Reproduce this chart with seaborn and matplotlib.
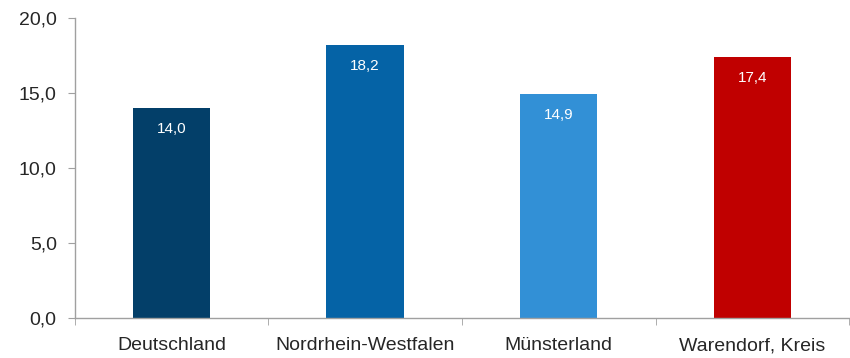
import numpy as np
import pandas as pd
import matplotlib
matplotlib.use('Agg')
import matplotlib.pyplot as plt
import seaborn as sns

regions = ['Deutschland', 'Nordrhein-Westfalen', 'Münsterland', 'Warendorf, Kreis']
values = [14.0, 18.2, 14.9, 17.4]
colors = ['#033F69', '#0563A6', '#3290D6', '#C00000']

sns.set_style('white')
plt.rcParams['font.family'] = ['Liberation Sans', 'DejaVu Sans']

df = pd.DataFrame({'region': regions, 'value': values})

fig = plt.figure(figsize=(8.5, 3.58), dpi=100)
ax = fig.add_axes([0.088, 0.112, 0.911, 0.838])
sns.barplot(data=df, x='region', y='value', hue='region', palette=colors,
            width=0.4, saturation=1, legend=False, linewidth=0, ax=ax)

ax.set_ylim(0, 20)
ax.set_xlim(-0.5, len(regions) - 0.5)
ax.set_yticks(np.arange(0, 21, 5))
ax.set_yticklabels([f'{v:.1f}'.replace('.', ',') for v in np.arange(0, 21, 5)])
ax.set_xlabel('')
ax.set_ylabel('')

# value labels inside bars
for i, v in enumerate(values):
    ax.text(i, v - 1.4, f'{v:.1f}'.replace('.', ','), ha='center', va='center',
            color='white', fontsize=11)

for s in ['top', 'right']:
    ax.spines[s].set_visible(False)
for s in ['left', 'bottom']:
    ax.spines[s].set_color('#a0a0a0')
    ax.spines[s].set_linewidth(1)

ax.tick_params(axis='y', which='major', length=5, color='#a0a0a0', labelsize=14, pad=8, left=True)
ax.tick_params(axis='x', which='major', length=0, labelsize=14, pad=14)
ax.set_xticks(np.arange(-0.5, len(regions)), minor=True)
ax.tick_params(axis='x', which='minor', length=5, color='#a0a0a0', bottom=True)

fig.savefig('out.png', dpi=100)
